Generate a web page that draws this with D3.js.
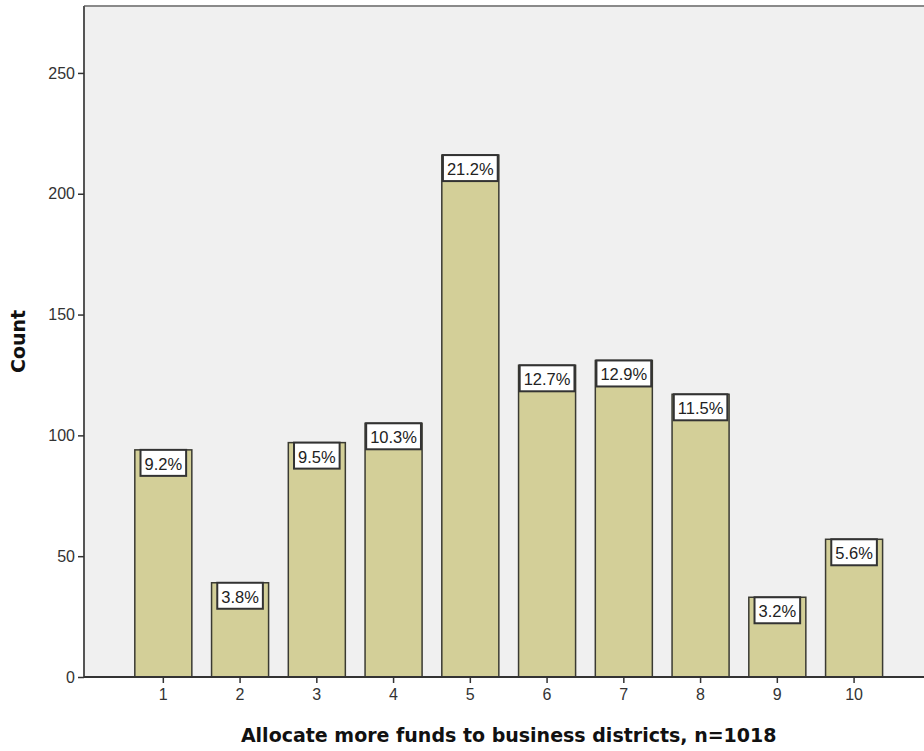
<!DOCTYPE html>
<html>
<head>
<meta charset="utf-8">
<script src="https://cdn.jsdelivr.net/npm/d3@7"></script>
<style>
  html, body { margin: 0; padding: 0; background: #ffffff; }
  svg { display: block; }
</style>
</head>
<body>
<svg id="chart" width="924" height="751"></svg>
<script>
const categories = ["1", "2", "3", "4", "5", "6", "7", "8", "9", "10"];
const counts = [94, 39, 97, 105, 216, 129, 131, 117, 33, 57];
const percentLabels = ["9.2%", "3.8%", "9.5%", "10.3%", "21.2%", "12.7%", "12.9%", "11.5%", "3.2%", "5.6%"];
const yTicks = [0, 50, 100, 150, 200, 250];
const xTitle = "Allocate more funds to business districts, n=1018";
const yTitle = "Count";

(function () {
const svg = d3.select("#chart");
const pLeft = 84, pTop = 6, pBottom = 677, pRight = 933.4;

const x = d3.scaleBand().domain(categories).range([pLeft, pRight])
  .paddingInner(0.257).paddingOuter(0.662);
const y = d3.scaleLinear().domain([0, 277.7]).range([pBottom, pTop]);

// plot background
svg.append("rect").attr("x", pLeft).attr("y", pTop)
  .attr("width", pRight - pLeft).attr("height", pBottom - pTop)
  .attr("fill", "#f0f0f0");
// top border
svg.append("line").attr("x1", pLeft).attr("x2", pRight).attr("y1", pTop).attr("y2", pTop)
  .attr("stroke", "#8a8a8a").attr("stroke-width", 2);

// bars
const g = svg.append("g");
g.selectAll("rect.bar").data(categories).join("rect")
  .attr("class", "bar")
  .attr("x", d => x(d))
  .attr("y", (d, i) => y(counts[i]))
  .attr("width", x.bandwidth())
  .attr("height", (d, i) => pBottom - y(counts[i]))
  .attr("fill", "#d3cf98")
  .attr("stroke", "#3a3a32")
  .attr("stroke-width", 1.5);

// labels
const labels = g.selectAll("g.lab").data(categories).join("g").attr("class", "lab");
labels.each(function(d, i) {
  const sel = d3.select(this);
  const t = sel.append("text")
    .attr("x", x(d) + x.bandwidth() / 2)
    .attr("y", y(counts[i]) + 14)
    .attr("text-anchor", "middle")
    .attr("dominant-baseline", "central")
    .attr("font-family", "Liberation Sans, Arial, sans-serif")
    .attr("font-size", 16.5)
    .attr("fill", "#222")
    .text(percentLabels[i]);
  const w = Math.min(t.node().getComputedTextLength() + 8, x.bandwidth() - 2);
  sel.insert("rect", "text")
    .attr("x", x(d) + x.bandwidth() / 2 - w / 2)
    .attr("y", y(counts[i]))
    .attr("width", w)
    .attr("height", 26)
    .attr("fill", "#ffffff")
    .attr("stroke", "#333")
    .attr("stroke-width", 2);
});

// y axis
const yAxis = svg.append("g").attr("transform", `translate(${pLeft},0)`)
  .call(d3.axisLeft(y).tickValues(yTicks).tickSize(6).tickPadding(3).tickSizeOuter(0));
yAxis.select(".domain").attr("stroke", "#555").attr("stroke-width", 2)
  .attr("d", `M0,${pTop}V${pBottom}`);
yAxis.selectAll(".tick line").attr("stroke", "#333").attr("stroke-width", 1.5);
yAxis.selectAll(".tick text").attr("font-family", "Liberation Sans, Arial, sans-serif")
  .attr("font-size", 16).attr("fill", "#333");

// x axis
const xAxis = svg.append("g").attr("transform", `translate(0,${pBottom})`)
  .call(d3.axisBottom(x).tickSize(6).tickPadding(6).tickSizeOuter(0));
xAxis.select(".domain").attr("stroke", "#333").attr("stroke-width", 2)
  .attr("d", `M${pLeft},0H${pRight}`);
xAxis.selectAll(".tick line").attr("stroke", "#333").attr("stroke-width", 1.5);
xAxis.selectAll(".tick text").attr("font-family", "Liberation Sans, Arial, sans-serif")
  .attr("font-size", 16).attr("fill", "#333");

// titles
svg.append("text").attr("x", (pLeft + pRight) / 2).attr("y", 742)
  .attr("text-anchor", "middle")
  .attr("font-family", "DejaVu Sans, Verdana, sans-serif")
  .attr("font-weight", "bold").attr("font-size", 19).attr("fill", "#111")
  .text(xTitle);
svg.append("text")
  .attr("transform", `translate(25,${(pTop + pBottom) / 2}) rotate(-90)`)
  .attr("text-anchor", "middle")
  .attr("font-family", "DejaVu Sans, Verdana, sans-serif")
  .attr("font-weight", "bold").attr("font-size", 19).attr("fill", "#111")
  .text(yTitle);
})();
</script>
</body>
</html>
